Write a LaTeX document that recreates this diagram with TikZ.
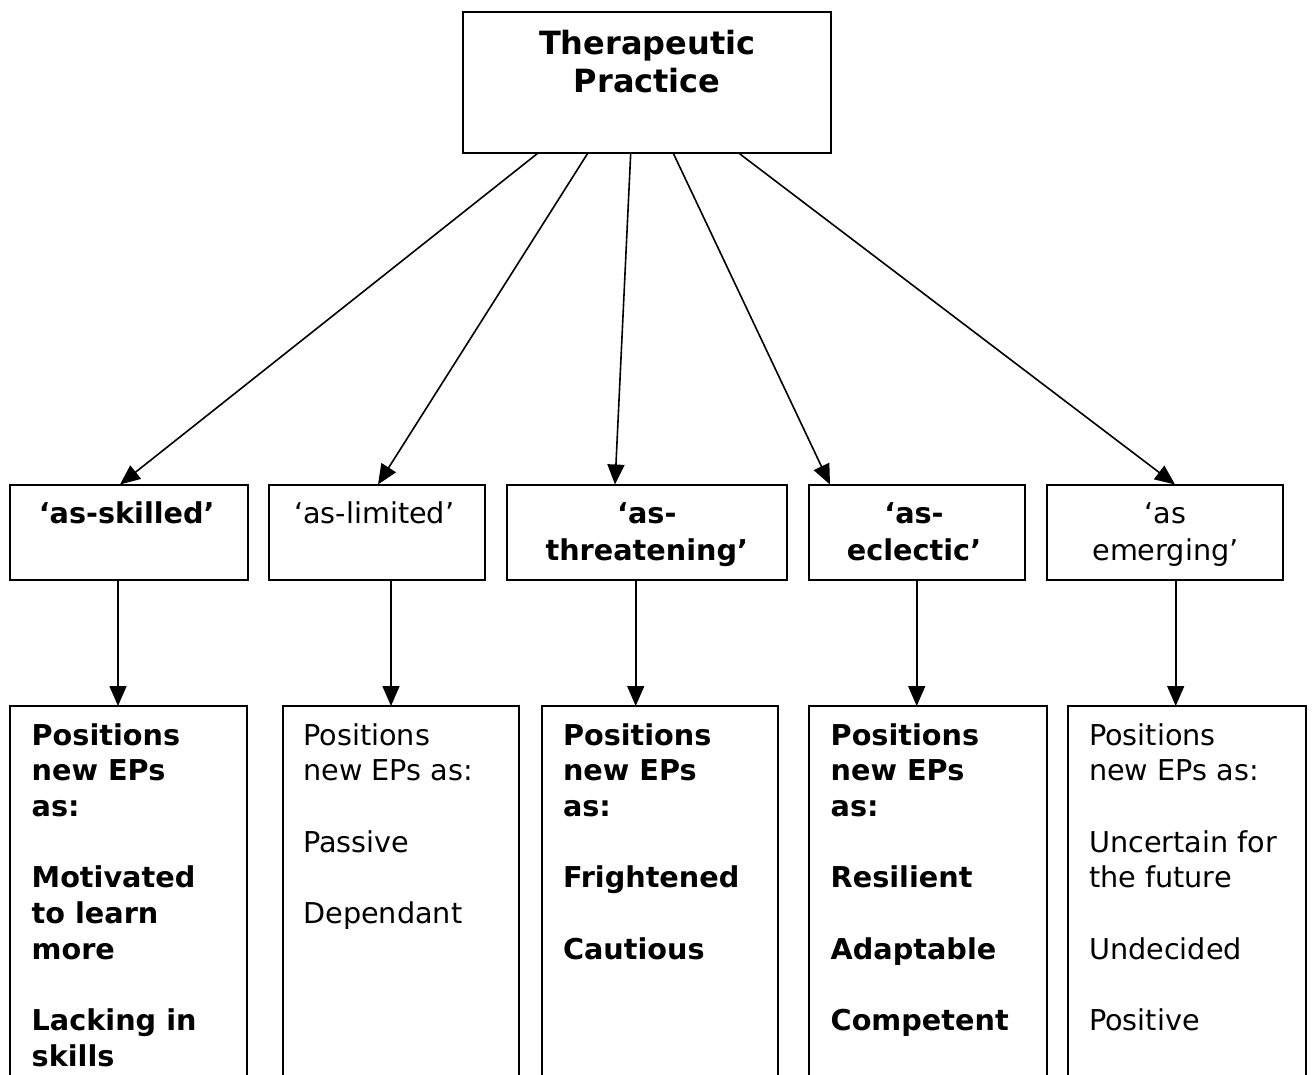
\documentclass[tikz,border=0pt]{standalone}
\usepackage{fontspec}
\setmainfont{DejaVu Sans}
\usetikzlibrary{arrows.meta}
\newcommand{\leftlines}[1]{\begin{tabular}[t]{@{}l@{}}#1\end{tabular}}
\newcommand{\midlines}[1]{\begin{tabular}[t]{@{}c@{}}#1\end{tabular}}
\begin{document}
\begin{tikzpicture}[x=1pt,y=-1pt,
  box/.style={draw, line width=2pt, inner sep=0pt, outer sep=0pt},
  arr/.style={line width=1.6pt, -{Triangle[length=20pt,width=17pt]}},
  body/.style={inner sep=0pt, outer sep=0pt, anchor=base west,
    font=\fontsize{28.7}{35.7}\selectfont},
  bbody/.style={body, font=\bfseries\fontsize{28.7}{35.7}\selectfont},
  mid/.style={inner sep=0pt, outer sep=0pt, anchor=base,
    font=\fontsize{28.7}{36.5}\selectfont},
  bmid/.style={mid, font=\bfseries\fontsize{28.7}{36.5}\selectfont}
]
\useasboundingbox (0,0) rectangle (1313,1074);
\fill[white] (0,0) rectangle (1313,1074);
\clip (0,0) rectangle (1313,1074);

% top box
\node[box, minimum width=367.7pt, minimum height=141.6pt] (top) at (647.2,82.5) {};
\node[inner sep=0pt, anchor=base,
  font=\bfseries\fontsize{32}{38.5}\selectfont] (toptxt) at (647.2,54.3) {\midlines{Therapeutic\\Practice}};

% middle boxes
\node[box, minimum width=238.3pt, minimum height=95pt] (m1) at (129.15,532) {};
\node[box, minimum width=215.7pt, minimum height=95pt] (m2) at (377.15,532) {};
\node[box, minimum width=280.3pt, minimum height=95pt] (m3) at (646.85,532) {};
\node[box, minimum width=216pt, minimum height=95pt] (m4) at (917,532) {};
\node[box, minimum width=236.6pt, minimum height=95pt] (m5) at (1165,532) {};

\node[bmid] (tm1) at (126.7,523.5) {‘as-skilled’};
\node[mid]  (tm2) at (374.2,523.5) {‘as-limited’};
\node[bmid] (tm3) at (646.8,523.5) {\midlines{‘as-\\threatening’}};
\node[bmid] (tm4) at (914,523.5) {\midlines{‘as-\\eclectic’}};
\node[mid]  (tm5) at (1165.5,523.5) {\midlines{‘as\\emerging’}};

% bottom boxes (open at the bottom edge of the picture)
\node[box, minimum width=237pt, minimum height=420pt, anchor=north] (b1) at (128.5,706) {};
\node[box, minimum width=236pt, minimum height=420pt, anchor=north] (b2) at (401,706) {};
\node[box, minimum width=236.3pt, minimum height=420pt, anchor=north] (b3) at (659.85,706) {};
\node[box, minimum width=237.7pt, minimum height=420pt, anchor=north] (b4) at (927.85,706) {};
\node[box, minimum width=237.7pt, minimum height=420pt, anchor=north] (b5) at (1186.85,706) {};

\node[bbody] (tb1) at (31.7,745) {\leftlines{Positions\\new EPs\\as:\\ \\Motivated\\to learn\\more\\ \\Lacking in\\skills}};
\node[body] (tb2) at (303.3,745) {\leftlines{Positions\\new EPs as:\\ \\Passive\\ \\Dependant}};
\node[bbody] (tb3) at (563,745) {\leftlines{Positions\\new EPs\\as:\\ \\Frightened\\ \\Cautious}};
\node[bbody] (tb4) at (830.7,745) {\leftlines{Positions\\new EPs\\as:\\ \\Resilient\\ \\Adaptable\\ \\Competent}};
\node[body] (tb5) at (1089,745) {\leftlines{Positions\\new EPs as:\\ \\Uncertain for\\the future\\ \\Undecided\\ \\Positive}};

% arrows from the top box
\draw[arr] ([xshift=-109.5pt]top.south) -- ([xshift=-9.15pt]m1.north);
\draw[arr] ([xshift=-59.5pt]top.south) -- ([xshift=0.85pt]m2.north);
\draw[arr] ([xshift=-16.5pt]top.south) -- ([xshift=-31.85pt]m3.north);
\draw[arr] ([xshift=26.1pt]top.south) -- ([xshift=-87pt]m4.north);
\draw[arr] ([xshift=91.8pt]top.south) -- ([xshift=10pt]m5.north);

% vertical arrows
\draw[arr] ([xshift=-11.15pt]m1.south) -- ([xshift=-11.15pt]m1.south |- b1.north);
\draw[arr] ([xshift=13.85pt]m2.south) -- ([xshift=13.85pt]m2.south |- b2.north);
\draw[arr] ([xshift=-11.15pt]m3.south) -- ([xshift=-11.15pt]m3.south |- b3.north);
\draw[arr] ([xshift=-0.3pt]m4.south) -- ([xshift=-0.3pt]m4.south |- b4.north);
\draw[arr] ([xshift=10.7pt]m5.south) -- ([xshift=10.7pt]m5.south |- b5.north);
\end{tikzpicture}
\end{document}
